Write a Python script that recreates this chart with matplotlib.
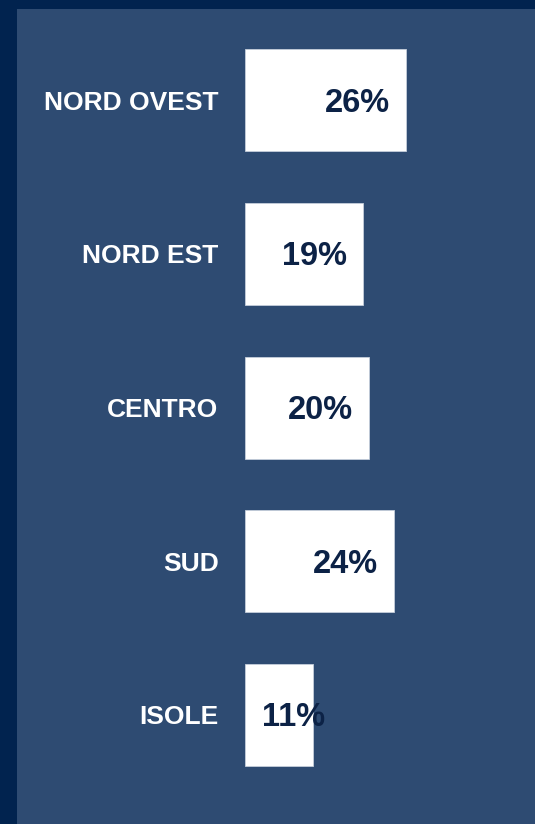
import matplotlib.pyplot as plt

regions = ['NORD OVEST', 'NORD EST', 'CENTRO', 'SUD', 'ISOLE']
shares = [26, 19, 20, 24, 11]

outer = '#01234f'
inner = '#2e4b72'
navy_text = '#0c2246'

plt.rcParams['font.family'] = ['Liberation Sans', 'DejaVu Sans']

fig = plt.figure(figsize=(5.35, 8.24), dpi=100)
fig.patch.set_facecolor(outer)

# inner panel (left border 17px, top border 9px)
bg = fig.add_axes([17 / 535, 0, 1 - 17 / 535, 1 - 9 / 824])
bg.set_facecolor(inner)
bg.set_xticks([])
bg.set_yticks([])
for s in bg.spines.values():
    s.set_visible(False)

px_per_pct = 6.2
x0 = 245
ax = fig.add_axes([x0 / 535, 0, 1 - x0 / 535, 1])
ax.patch.set_alpha(0)
ax.set_xlim(0, (535 - x0) / px_per_pct)
step = 153.75
ax.set_ylim(-100 / step + 824 / step, -100 / step)

y = list(range(len(regions)))
ax.barh(y, shares, height=102 / step, color='white', edgecolor='#c5cedb', linewidth=0.6)

ax.set_yticks(y)
ax.set_yticklabels(regions, color='white', fontsize=19, fontweight='bold')
ax.tick_params(axis='y', length=0, pad=19)
ax.set_xticks([])
for s in ax.spines.values():
    s.set_visible(False)

dy = 3 / step
for yi, v in zip(y, shares):
    if v >= 15:
        ax.text(v - 16 / px_per_pct, yi + dy, f'{v}%', ha='right', va='center',
                color=navy_text, fontsize=23.5, fontweight='bold')
    else:
        ax.text(17 / px_per_pct, yi + dy, f'{v}%', ha='left', va='center',
                color=navy_text, fontsize=23.5, fontweight='bold')

fig.savefig('out.png', dpi=100, facecolor=outer)
